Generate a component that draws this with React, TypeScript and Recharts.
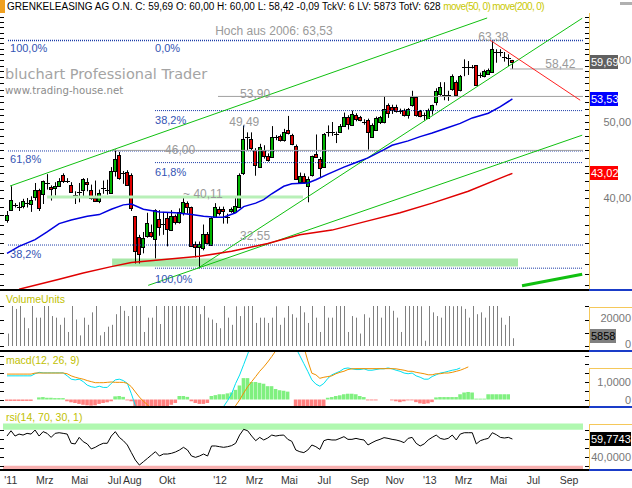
import React from "react";
import {
  Bar,
  ComposedChart,
  Line,
  ReferenceArea,
  ReferenceDot,
  ReferenceLine,
  XAxis,
  YAxis,
} from "recharts";

const FONT = "'Liberation Sans', Arial, sans-serif";

// weekly candles, Jan 2011 .. Jun 2013 (index = week)
const opens = [
  37.4, 38.6, 39.1, 39.0, 39.0, 39.3, 39.3, 40.2, 41.0, 40.4,
  41.7, 41.3, 41.2, 41.5, 42.8, 42.1, 41.6, 40.4, 40.7, 41.0,
  41.9, 41.0, 40.0, 39.6, 41.2, 41.0, 40.6, 43.4, 45.4, 43.0,
  43.2, 42.8, 37.9, 35.7, 34.7, 35.8, 36.2, 35.4, 37.6, 37.0,
  37.7, 36.4, 37.9, 37.3, 38.2, 39.4, 39.0, 34.9, 34.6, 34.5,
  36.0, 34.8, 37.9, 38.7, 38.7, 37.8, 38.5, 38.4, 39.0, 43.0,
  47.9, 47.6, 46.1, 43.9, 46.0, 45.2, 45.2, 47.8, 48.0, 47.4,
  48.8, 48.1, 46.6, 42.0, 42.7, 41.5, 42.8, 45.5, 44.9, 43.9,
  48.6, 48.6, 48.4, 48.6, 49.5, 50.7, 49.6, 51.0, 50.7, 50.0,
  50.3, 47.9, 48.8, 49.9, 50.0, 52.6, 52.2, 52.2, 51.6, 51.8,
  51.0, 52.5, 53.8, 51.6, 51.0, 50.6, 51.7, 52.9, 54.2, 54.1,
  54.2, 55.0, 56.3, 54.9, 58.7, 58.8, 58.8, 59.1, 57.4, 57.2,
  57.6, 57.9, 61.4, 61.4, 60.6, 60.3, 60.0,
];
const highs = [
  38.5, 41.4, 39.4, 39.5, 39.9, 40.0, 40.2, 41.8, 41.1, 42.1,
  42.9, 41.5, 41.9, 42.4, 43.0, 42.4, 41.9, 40.8, 41.8, 42.4,
  42.4, 41.6, 42.1, 41.0, 42.1, 42.2, 43.8, 46.1, 45.8, 43.3,
  43.4, 43.0, 37.9, 35.9, 36.2, 38.3, 37.0, 38.7, 38.6, 38.4,
  38.3, 38.6, 38.1, 38.8, 40.1, 39.6, 39.0, 35.2, 35.2, 37.0,
  36.2, 37.8, 39.4, 39.0, 39.0, 38.2, 38.9, 40.0, 43.0, 49.5,
  48.5, 48.5, 46.3, 46.9, 46.7, 45.6, 49.4, 48.1, 48.2, 49.0,
  50.9, 48.3, 46.8, 43.1, 43.0, 42.6, 45.3, 48.2, 45.1, 48.4,
  49.5, 50.0, 48.6, 49.7, 51.4, 51.0, 51.7, 51.3, 50.9, 50.4,
  50.5, 49.8, 50.8, 50.9, 53.9, 52.8, 52.6, 52.6, 52.0, 52.0,
  52.1, 54.8, 53.9, 51.8, 51.4, 52.0, 52.6, 55.2, 56.2, 56.2,
  54.8, 57.5, 56.5, 57.4, 60.1, 59.8, 59.1, 59.1, 57.8, 58.3,
  58.5, 63.38, 61.9, 61.9, 61.4, 61.0, 60.0,
];
const lows = [
  37.2, 38.5, 38.9, 38.5, 38.8, 38.9, 38.4, 39.7, 38.5, 39.3,
  41.0, 39.7, 40.3, 41.4, 41.8, 41.8, 40.6, 39.3, 39.5, 40.1,
  40.8, 39.8, 39.6, 39.4, 40.5, 40.4, 40.5, 42.6, 42.2, 41.7,
  41.5, 38.5, 33.0, 33.0, 34.0, 35.6, 35.6, 33.5, 35.8, 35.9,
  34.7, 36.3, 37.0, 37.1, 38.0, 38.2, 34.7, 33.6, 32.55, 34.3,
  34.9, 34.8, 37.8, 38.0, 37.1, 37.1, 38.3, 38.3, 38.9, 42.8,
  46.0, 46.0, 42.7, 43.8, 44.9, 44.5, 45.0, 47.4, 47.2, 47.2,
  48.2, 46.7, 42.2, 41.7, 41.7, 39.5, 42.6, 45.0, 42.4, 43.8,
  47.9, 48.0, 47.0, 48.5, 49.4, 48.9, 49.5, 50.1, 50.1, 49.6,
  46.1, 47.7, 48.7, 49.7, 49.8, 50.6, 51.2, 51.4, 51.2, 50.8,
  50.5, 52.3, 50.8, 50.7, 50.2, 50.5, 51.1, 52.5, 54.0, 53.3,
  53.2, 54.8, 54.0, 54.7, 57.2, 57.4, 58.5, 55.6, 56.9, 57.0,
  57.5, 57.8, 59.5, 60.6, 59.7, 58.9, 58.42,
];
const closes = [
  38.0, 39.8, 39.2, 38.9, 39.6, 39.4, 39.8, 41.0, 38.9, 42.0,
  41.8, 41.0, 41.4, 42.1, 42.0, 42.1, 40.7, 40.4, 40.7, 42.3,
  41.6, 40.0, 39.7, 40.6, 41.2, 41.0, 43.3, 44.9, 42.4, 43.0,
  41.6, 38.8, 34.2, 34.0, 35.6, 37.2, 35.8, 38.6, 36.7, 37.1,
  36.5, 37.9, 37.2, 38.4, 39.5, 38.9, 34.8, 34.6, 34.9, 36.0,
  35.1, 37.7, 39.0, 38.2, 38.5, 37.8, 38.7, 39.1, 42.8, 47.5,
  47.9, 46.3, 44.1, 46.5, 45.2, 44.7, 47.9, 47.8, 47.4, 48.5,
  48.4, 46.9, 42.3, 42.7, 41.9, 42.3, 45.2, 45.1, 43.7, 48.3,
  48.6, 48.6, 48.3, 49.4, 50.8, 49.7, 51.2, 50.4, 50.3, 50.0,
  48.6, 49.6, 50.6, 50.7, 52.0, 51.4, 51.8, 51.6, 51.6, 51.0,
  51.9, 53.8, 51.0, 50.9, 51.0, 51.8, 52.5, 54.7, 55.4, 54.1,
  54.2, 57.2, 54.2, 57.2, 58.7, 58.8, 58.8, 55.7, 57.4, 58.1,
  58.3, 61.9, 61.4, 61.4, 60.6, 60.3, 59.69,
];
const volumes = [
  9400, 32000, 28000, 32000, 21400, 13400, 32000, 21400, 21400, 32000,
  32000, 22600, 21400, 16000, 21400, 10600, 32000, 20000, 8000, 21400,
  16000, 25400, 32000, 8000, 10600, 14600, 16000, 24000, 32000, 26600,
  22600, 32000, 32000, 32000, 10600, 21400, 21400, 32000, 16600, 32000,
  32000, 32000, 32000, 32000, 32000, 32000, 32000, 32000, 24000, 32000,
  21400, 20000, 17400, 13400, 32000, 21400, 16000, 30000, 22600, 30000,
  32000, 32000, 17400, 21400, 21400, 17400, 21400, 30000, 16000, 21400,
  32000, 24000, 21400, 32000, 25400, 17400, 32000, 21400, 10600, 32000,
  21400, 21400, 32000, 32000, 32000, 10600, 22600, 21400, 9400, 24000,
  21400, 32000, 32000, 21400, 32000, 32000, 26600, 21400, 10600, 32000,
  32000, 32000, 32000, 30000, 4000, 32000, 25400, 22600, 21400, 32000,
  32000, 30000, 32000, 30000, 28000, 21400, 32000, 24000, 25400, 21400,
  32000, 32000, 32000, 21400, 16000, 22600, 5858,
];
const macdValues = [
  1.35, 1.35, 1.35, 1.35, 1.35, 1.35, 1.35, 1.47, 1.55, 1.52,
  1.52, 1.52, 1.52, 1.52, 1.52, 1.35, 1.16, 1.12, 1.16, 1.02,
  0.82, 0.73, 0.69, 0.76, 0.69, 0.69, 0.92, 1.12, 1.16, 1.08,
  0.92, 0.33, -0.35, -0.9, -1.3, -1.5, -1.6, -1.6, -1.7, -1.7,
  -1.8, -1.8, -1.8, -1.7, -1.7, -1.6, -1.6, -1.7, -1.7, -1.6,
  -1.5, -1.3, -1.0, -0.7, -0.4, -0.06, 0.33, 0.92, 1.4, 1.99,
  2.59, 3.2, 3.5, 3.7, 3.8, 3.9, 4.0, 4.0, 3.9, 3.8,
  3.6, 3.3, 2.95, 2.5, 2.05, 1.6, 1.12, 0.88, 0.76, 0.92,
  1.21, 1.41, 1.51, 1.61, 1.76, 1.8, 1.75, 1.71, 1.71, 1.75,
  1.67, 1.67, 1.71, 1.75, 1.75, 1.8, 1.75, 1.67, 1.61, 1.51,
  1.47, 1.51, 1.35, 1.27, 1.16, 1.16, 1.31, 1.41, 1.51, 1.55,
  1.61, 1.67, 1.71, 1.8, null, null, null, null, null, null,
  null, null, null, null, null, null, null,
];
const signalValues = [
  1.45, 1.45, 1.45, 1.45, 1.45, 1.45, 1.45, 1.51, 1.51, 1.51,
  1.51, 1.51, 1.51, 1.51, 1.51, 1.47, 1.35, 1.27, 1.21, 1.16,
  1.08, 1.02, 0.96, 0.96, 0.96, 0.98, 1.0, 0.98, 0.98, 0.98,
  0.92, 0.73, 0.43, 0.14, -0.1, -0.29, -0.55, -0.8, -1.0, -1.2,
  -1.3, -1.4, -1.5, -1.5, -1.5, -1.5, -1.5, -1.5, -1.5, -1.5,
  -1.4, -1.3, -1.2, -1.0, -0.9, -0.7, -0.55, -0.35, -0.02, 0.37,
  0.73, 1.02, 1.31, 1.61, 1.86, 2.14, 2.45, 2.78, 3.1, 3.3,
  3.4, 3.4, 3.3, 3.1, 3.0, 2.2, 1.5, 1.41, 1.21, 1.27,
  1.31, 1.35, 1.47, 1.55, 1.61, 1.71, 1.75, 1.76, 1.76, 1.76,
  1.76, 1.76, 1.76, 1.76, 1.76, 1.76, 1.76, 1.75, 1.71, 1.67,
  1.61, 1.61, 1.55, 1.51, 1.47, 1.41, 1.41, 1.47, 1.47, 1.51,
  1.51, 1.55, 1.61, 1.67, 1.76, 1.86, null, null, null, null,
  null, null, null, null, null, null, null,
];
const histValues = [
  -0.08, -0.08, -0.08, -0.08, -0.08, -0.08, -0.08, 0, 0.12, 0.14,
  0.1, 0.1, 0.08, 0.08, 0.08, -0.1, -0.16, -0.2, -0.25, -0.3,
  -0.33, -0.35, -0.33, -0.25, -0.2, -0.16, -0.1, 0.18, 0.2, 0.15,
  -0.05, -0.1, -0.6, -0.6, -0.6, -0.6, -0.6, -0.6, -0.6, -0.6,
  -0.6, -0.3, -0.2, 0.2, 0.2, 0.15, -0.1, -0.2, -0.25, -0.25,
  -0.2, 0.2, 0.25, 0.3, 0.3, 0.35, 0.4, 0.55, 0.8, 1.22,
  1.22, 1.0, 1.0, 0.95, 0.9, 0.76, 0.76, 0.6, 0.53, 0.5,
  0.45, 0, -0.6, -0.6, -0.6, -0.6, -0.6, -0.6, -0.6, -0.6,
  0.1, 0.14, 0.2, 0.24, 0.3, 0.33, 0.33, 0.3, 0.2, 0.14,
  -0.05, -0.05, -0.05, 0, 0, 0, -0.05, -0.1, -0.15, -0.1,
  -0.05, -0.05, -0.15, -0.22, -0.25, -0.22, -0.15, 0.12, 0.14, 0.14,
  0.14, 0.14, 0.14, 0.3, 0.4, 0.43, 0.4, 0.05, 0.05, 0.05,
  0.3, 0.3, 0.3, 0.3, 0.3, 0.3, 0,
];
const rsiValues = [
  63.1, 69.0, 63.1, 65.3, 64.2, 66.1, 65.3, 69.8, 63.1, 68.0,
  66.1, 61.6, 66.1, 66.8, 66.1, 65.3, 55.0, 54.3, 61.6, 56.8,
  54.3, 48.7, 50.5, 53.1, 55.0, 55.0, 63.1, 68.0, 61.6, 57.9,
  53.1, 44.6, 36.3, 30.7, 34.4, 38.1, 41.9, 45.6, 40.8, 43.0,
  43.0, 43.8, 45.3, 47.5, 50.5, 47.5, 40.8, 39.3, 40.8, 43.0,
  40.8, 52.0, 52.0, 51.2, 50.5, 51.2, 52.4, 55.0, 64.2, 70.6,
  69.0, 63.1, 57.9, 61.6, 58.7, 60.9, 64.2, 63.1, 63.9, 64.2,
  59.4, 57.2, 47.5, 45.6, 44.6, 47.5, 53.1, 51.2, 48.2, 57.9,
  59.4, 58.7, 58.7, 60.5, 62.4, 59.4, 59.4, 60.5, 59.4, 58.7,
  53.1, 55.7, 57.9, 59.4, 61.3, 60.5, 59.4, 58.7, 57.5, 55.7,
  60.5, 61.6, 55.0, 52.0, 54.3, 58.7, 61.6, 64.2, 60.5, 59.4,
  60.5, 64.2, 58.7, 65.3, 66.8, 66.8, 66.8, 54.3, 57.9, 59.4,
  60.5, 66.8, 64.6, 61.6, 60.9, 61.6, 59.77,
];

// moving averages, read at selected weeks
const ma50Weeks = [0, 3, 7, 10, 13, 16, 20, 23, 26, 29, 31, 34, 38, 42, 46, 49, 52, 54, 57, 59, 62, 64, 66, 69, 71, 75, 77, 80, 84, 87, 90, 94, 96, 100, 103, 106, 110, 113, 116, 120, 123, 126];
const ma50Values = [34.0, 34.7, 35.4, 36.2, 37.1, 37.5, 37.9, 38.1, 38.7, 39.2, 39.3, 38.7, 38.4, 38.3, 38.1, 37.9, 37.8, 37.8, 38.3, 39.0, 39.4, 39.8, 40.5, 41.4, 41.7, 41.8, 42.2, 42.9, 43.8, 44.4, 45.0, 46.1, 46.7, 47.3, 47.9, 48.4, 49.2, 49.8, 50.6, 51.3, 52.3, 53.5];
const ma200Weeks = [3, 13, 19, 26, 31, 48, 56, 65, 73, 81, 90, 98, 106, 115, 123, 126];
const ma200Values = [30.6, 31.5, 32.1, 32.7, 33.1, 33.7, 34.2, 35.0, 35.9, 36.4, 37.4, 38.3, 39.4, 40.8, 42.4, 43.0];

// fibonacci levels and marked prices
const fibPrices = [63.53, 45.92, 34.84, 51.7, 44.38, 32.55];
const fibStarts = [0.25, 0.25, 0.25, 36.9, 36.9, 36.9];
const greyPrices = [53.9, 46.0, 58.42];
const greyStarts = [52.6, 26.4, 125.4];
const trendStart = [[0.75, 41.43], [35.2, 30.95], [47.4, 32.5], [128.4, 30.92], [120.4, 63.6]];
const trendEnd = [[119.7, 67.86], [143.4, 48.1], [143.4, 67.8], [143.4, 31.97], [142.9, 53.3]];
const trendColors = ["#10c010", "#10c010", "#10c010", "#10c010", "#ff2020"];
const trendWidths = [1, 1, 1, 3, 1];

const noteText = ["Hoch aus 2006: 63,53", "63,38", "53,90", "49,49", "46,00", "~ 40,11", "32,55", "58,42"];
const noteWeek = [51.9, 117.5, 58.1, 55.4, 39.4, 43.9, 58.1, 134.2];
const notePrice = [64.55, 63.4, 53.65, 49.42, 45.5, 40.0, 35.36, 58.6];
const fibText = ["100,0%", "0,0%", "38,2%", "61,8%", "61,8%", "38,2%", "100,0%"];
const fibWeek = [0.75, 36.9, 36.9, 0.75, 36.9, 0.75, 36.9];
const fibLabelPrice = [61.4, 61.4, 49.7, 44.33, 42.67, 33.55, 31.17];

const monthTicks = [-0.3, 8.14, 16.86, 25.57, 30.0, 38.71, 51.86, 60.43, 69.14, 77.86, 86.71, 95.43, 104.14, 112.57, 121.29, 130.0, 138.86];
const monthLabels = ["'11", "Mrz", "Mai", "Jul", "Aug", "Okt", "'12", "Mrz", "Mai", "Jul", "Sep", "Nov", "'13", "Mrz", "Mai", "Jul", "Sep"];

const X_DOMAIN = [-1, 143.6];
const X_MAX = 143.6;

const priceTicks = Array.from({ length: 38 }, (_, k) => 31 + k);
const priceLabels: Record<number, string> = { 40: "40,00", 50: "50,00", 60: "60,00" };
const priceBoxes = [
  { value: 59.69, text: "59,69", fill: "#606060", color: "#fff", width: 29 },
  { value: 53.53, text: "53,53", fill: "#0000ff", color: "#fff", width: 29 },
  { value: 43.02, text: "43,02", fill: "#ff0000", color: "#fff", width: 29 },
];
const volTicks = [0, 10000, 20000, 30000];
const volLabels: Record<number, string> = { 0: "0", 20000: "20000" };
const volBoxes = [{ value: 5858, text: "5858", fill: "#808080", color: "#000", width: 27 }];
const macdTicks = [0, 0.5, 1, 1.5, 2, 2.5];
const macdLabels: Record<number, string> = { 0: "0", 1: "1,0000" };
const rsiTicks = [30, 40, 50, 60, 70];
const rsiLabels: Record<number, string> = { 40: "40,0000" };
const rsiBoxes = [{ value: 59.7743, text: "59,7743", fill: "#000", color: "#fff", width: 42 }];

const weeks = opens.map((o, i) => ({
  i,
  o,
  h: highs[i],
  l: lows[i],
  c: closes[i],
  vol: volumes[i],
  macd: macdValues[i],
  signal: signalValues[i],
  hist: histValues[i],
  rsi: rsiValues[i],
  ma50: null as number | null,
  ma200: null as number | null,
}));
ma50Weeks.forEach((w, k) => (weeks[w].ma50 = ma50Values[k]));
ma200Weeks.forEach((w, k) => (weeks[w].ma200 = ma200Values[k]));

function Candle(props: any) {
  const { x, y, width, height, payload } = props;
  if (x == null || y == null) return null;
  const top = height < 0 ? y + height : y;
  const h = Math.abs(height);
  const cx = Math.round(x + width / 2);
  const lnH = Math.log(payload.h);
  const lnL = Math.log(payload.l);
  const at = (p: number) => (lnH > lnL ? top + (h * (lnH - Math.log(p))) / (lnH - lnL) : top);
  const yo = at(payload.o);
  const yc = at(payload.c);
  const b0 = Math.min(yo, yc);
  const b1 = Math.max(yo, yc);
  return (
    <g>
      <line x1={cx + 0.5} x2={cx + 0.5} y1={top} y2={top + h} stroke="#000" />
      {b1 - b0 < 1.5 ? (
        <line x1={cx - 2} x2={cx + 3} y1={Math.round(yc) + 0.5} y2={Math.round(yc) + 0.5} stroke="#000" />
      ) : (
        <rect
          x={cx - 1.5}
          y={Math.round(b0) + 0.5}
          width={3}
          height={Math.max(1, Math.round(b1 - b0))}
          fill={payload.c >= payload.o ? "#00b400" : "#e00000"}
          stroke="#000"
        />
      )}
    </g>
  );
}

function VolBar(props: any) {
  const { x, y, width, height } = props;
  if (x == null || y == null) return null;
  const top = height < 0 ? y + height : y;
  return <rect x={Math.round(x + width / 2)} y={top} width={1} height={Math.abs(height)} fill="#808080" />;
}

function HistBar(props: any) {
  const { x, y, width, height, payload } = props;
  if (x == null || y == null) return null;
  const top = height < 0 ? y + height : y;
  return (
    <rect
      x={x}
      y={top}
      width={width}
      height={Math.abs(height)}
      fill={payload.hist >= 0 ? "#80f080" : "#ff8080"}
    />
  );
}

function AxisTick(props: any) {
  const { y, payload, labels, boxes, dy = 0 } = props;
  const v = payload.value;
  const ry = Math.round(y);
  const box = (boxes || []).find((b: any) => b.value === v);
  if (box) {
    return (
      <g>
        <rect x={589} y={ry - 7 + dy} width={box.width} height={14} fill={box.fill} />
        <text x={591} y={ry + 4 + dy} fontSize={11} fill={box.color} fontFamily={FONT}>
          {box.text}
        </text>
      </g>
    );
  }
  const label = labels[v];
  return (
    <g>
      <line x1={0} x2={4} y1={ry + 0.5} y2={ry + 0.5} stroke="#000" />
      <line x1={585} x2={589} y1={ry + 0.5} y2={ry + 0.5} stroke="#000" />
      {label && (
        <text x={631} y={ry + 4 + dy} textAnchor="end" fontSize={11} fill="#777" fontFamily={FONT}>
          {label}
        </text>
      )}
    </g>
  );
}

function MonthTick(props: any) {
  const { x, y, payload } = props;
  const k = monthTicks.indexOf(payload.value);
  return (
    <text x={x + 5} y={y + 15} textAnchor="middle" fontSize={10.5} fill="#333" fontFamily={FONT}>
      {monthLabels[k]}
    </text>
  );
}

const abs = (left: number, top: number): React.CSSProperties => ({ position: "absolute", left, top });

export default function App() {
  const title = "GRENKELEASING AG O.N. C: 59,69 O: 60,00 H: 60,00 L: 58,42 -0,09 TckV: 6 LV: 5873 TotV: 628";
  return (
    <div
      style={{
        position: "absolute",
        left: 0,
        top: 0,
        width: 632,
        height: 488,
        background: "#fff",
        overflow: "hidden",
        fontFamily: FONT,
      }}
    >
      <div style={{ ...abs(0, 0), width: 5, height: 13, background: "#f0a020" }} />
      <div style={{ ...abs(620, 2), width: 12, height: 3, background: "#b0b0b0" }} />
      <div style={{ ...abs(7, 1), fontSize: 10, lineHeight: "12px", whiteSpace: "nowrap", color: "#000" }}>
        {title}{" "}
        <span style={{ color: "#c8c800", letterSpacing: -0.6 }}>move(50, 0) move(200, 0)</span>
      </div>
      <div style={{ ...abs(5, 66), fontFamily: "'DejaVu Sans'", fontSize: 14.5, lineHeight: "17px", color: "#a4a4a4", whiteSpace: "nowrap" }}>
        bluchart Professional Trader
      </div>
      <div style={{ ...abs(5, 85), fontFamily: "'DejaVu Sans'", fontSize: 10.2, lineHeight: "12px", color: "#8c8c8c", whiteSpace: "nowrap" }}>
        www.trading-house.net
      </div>

      <div style={abs(0, 0)}>
        <ComposedChart width={632} height={290} data={weeks} margin={{ top: 12, right: 0, bottom: 1, left: 3 }}>
          <XAxis type="number" dataKey="i" domain={X_DOMAIN} allowDataOverflow hide />
          <YAxis
            orientation="right"
            scale="log"
            domain={[30.62, 69.06]}
            allowDataOverflow
            ticks={[...priceTicks, ...priceBoxes.map((b) => b.value)]}
            interval={0}
            width={49}
            axisLine={false}
            tickLine={false}
            tickSize={0}
            tickMargin={0}
            tick={(p: any) => <AxisTick {...p} labels={priceLabels} boxes={priceBoxes} />}
          />
          <ReferenceArea x1={26.2} x2={127.4} y1={32.7} y2={33.5} fill="#a8e8a8" fillOpacity={1} stroke="none" ifOverflow="hidden" />
          <ReferenceLine segment={[{ x: 10, y: 40.11 }, { x: 73.8, y: 40.11 }]} stroke="#b8f0b8" strokeWidth={3} ifOverflow="hidden" />
          {fibPrices.map((p, k) => (
            <ReferenceLine
              key={"fib" + k}
              segment={[{ x: fibStarts[k], y: p }, { x: X_MAX, y: p }]}
              stroke="#1c3ca8"
              strokeDasharray="1 1"
              strokeWidth={k === 0 ? 1.6 : 1}
              ifOverflow="hidden"
            />
          ))}
          {greyPrices.map((p, k) => (
            <ReferenceLine
              key={"grey" + k}
              segment={[{ x: greyStarts[k], y: p }, { x: X_MAX, y: p }]}
              stroke="#a0a0a0"
              ifOverflow="hidden"
            />
          ))}
          {trendStart.map((s, k) => (
            <ReferenceLine
              key={"trend" + k}
              segment={[{ x: s[0], y: s[1] }, { x: trendEnd[k][0], y: trendEnd[k][1] }]}
              stroke={trendColors[k]}
              strokeWidth={trendWidths[k]}
              ifOverflow="hidden"
            />
          ))}
          <Bar dataKey={(d: any) => [d.l, d.h]} barSize={5} shape={Candle} isAnimationActive={false} />
          <Line dataKey="ma50" stroke="#0000e0" strokeWidth={1.5} dot={false} connectNulls isAnimationActive={false} />
          <Line dataKey="ma200" stroke="#e00000" strokeWidth={1.5} dot={false} connectNulls isAnimationActive={false} />
          {noteText.map((t, k) => (
            <ReferenceDot
              key={"note" + k}
              x={noteWeek[k]}
              y={notePrice[k]}
              ifOverflow="visible"
              shape={(p: any) => (
                <text x={p.cx} y={p.cy} fontSize={12} fill="#9a9a9a" fontFamily={FONT}>
                  {t}
                </text>
              )}
            />
          ))}
          {fibText.map((t, k) => (
            <ReferenceDot
              key={"fibt" + k}
              x={fibWeek[k]}
              y={fibLabelPrice[k]}
              ifOverflow="visible"
              shape={(p: any) => (
                <text x={p.cx} y={p.cy} fontSize={11} fill="#3454b4" fontFamily={FONT}>
                  {t}
                </text>
              )}
            />
          ))}
        </ComposedChart>
      </div>

      <div style={abs(0, 291)}>
        <ComposedChart width={632} height={59} data={weeks} margin={{ top: 15, right: 0, bottom: 4, left: 3 }}>
          <XAxis type="number" dataKey="i" domain={X_DOMAIN} allowDataOverflow hide />
          <YAxis
            orientation="right"
            domain={[0, 30200]}
            allowDataOverflow
            ticks={[...volTicks, ...volBoxes.map((b) => b.value)]}
            interval={0}
            width={49}
            axisLine={false}
            tickLine={false}
            tickSize={0}
            tickMargin={0}
            tick={(p: any) => <AxisTick {...p} labels={volLabels} boxes={volBoxes} dy={-2} />}
          />
          <Bar dataKey="vol" barSize={1} shape={VolBar} isAnimationActive={false} />
        </ComposedChart>
      </div>

      <div style={abs(0, 352)}>
        <ComposedChart width={632} height={54} data={weeks} margin={{ top: 0, right: 0, bottom: 0, left: 3 }}>
          <XAxis type="number" dataKey="i" domain={X_DOMAIN} allowDataOverflow hide />
          <YAxis
            orientation="right"
            domain={[-0.37, 2.71]}
            allowDataOverflow
            ticks={macdTicks}
            interval={0}
            width={49}
            axisLine={false}
            tickLine={false}
            tickSize={0}
            tickMargin={0}
            tick={(p: any) => <AxisTick {...p} labels={macdLabels} boxes={[]} />}
          />
          <Bar dataKey="hist" barSize={5} shape={HistBar} isAnimationActive={false} />
          <Line dataKey="macd" stroke="#00e0f0" strokeWidth={1} dot={false} isAnimationActive={false} />
          <Line dataKey="signal" stroke="#f09000" strokeWidth={1} dot={false} isAnimationActive={false} />
        </ComposedChart>
      </div>

      <div style={abs(0, 408)}>
        <ComposedChart width={632} height={80} data={weeks} margin={{ top: 0, right: 0, bottom: 0, left: 3 }}>
          <XAxis
            type="number"
            dataKey="i"
            domain={X_DOMAIN}
            allowDataOverflow
            ticks={monthTicks}
            interval={0}
            height={19}
            axisLine={false}
            tickLine={false}
            tickSize={0}
            tickMargin={0}
            tick={MonthTick}
          />
          <YAxis
            orientation="right"
            domain={[26.3, 94.4]}
            allowDataOverflow
            ticks={[...rsiTicks, ...rsiBoxes.map((b) => b.value)]}
            interval={0}
            width={49}
            axisLine={false}
            tickLine={false}
            tickSize={0}
            tickMargin={0}
            tick={(p: any) => <AxisTick {...p} labels={rsiLabels} boxes={rsiBoxes} />}
          />
          <ReferenceArea y1={70} y2={77} fill="#b0f8b0" fillOpacity={1} stroke="none" ifOverflow="hidden" />
          <ReferenceArea y1={26.3} y2={30} fill="#f8b0b0" fillOpacity={1} stroke="none" ifOverflow="hidden" />
          <Line dataKey="rsi" stroke="#000" strokeWidth={1} dot={false} isAnimationActive={false} />
        </ComposedChart>
      </div>

      {/* panel captions */}
      <div style={{ ...abs(6, 293), fontSize: 10.5, lineHeight: "12px", color: "#c0c000" }}>VolumeUnits</div>
      <div style={{ ...abs(6, 354), fontSize: 10.5, lineHeight: "12px", color: "#c0c000" }}>macd(12, 26, 9)</div>
      <div style={{ ...abs(6, 411), fontSize: 10.5, lineHeight: "12px", color: "#c0c000" }}>rsi(14, 70, 30, 1)</div>

      {/* right axis frames */}
      <div style={{ ...abs(589, 13), width: 1, height: 276, background: "#f5c85a" }} />
      <div style={{ ...abs(589, 307), width: 43, height: 43, borderTop: "1px solid #f5c85a", borderLeft: "1px solid #f5c85a", boxSizing: "border-box" }} />
      <div style={{ ...abs(589, 368), width: 43, height: 38, borderTop: "1px solid #f5c85a", borderLeft: "1px solid #f5c85a", boxSizing: "border-box" }} />
      <div style={{ ...abs(589, 424), width: 43, height: 45, borderTop: "1px solid #f5c85a", borderLeft: "1px solid #f5c85a", boxSizing: "border-box" }} />

      {/* panel separators */}
      {[289, 350, 406, 469].map((t) => (
        <React.Fragment key={t}>
          <div style={{ ...abs(0, t), width: 589, height: 2, background: "#000" }} />
          <div style={{ ...abs(589, t), width: 43, height: 2, background: "#1a3cc8" }} />
        </React.Fragment>
      ))}
    </div>
  );
}
